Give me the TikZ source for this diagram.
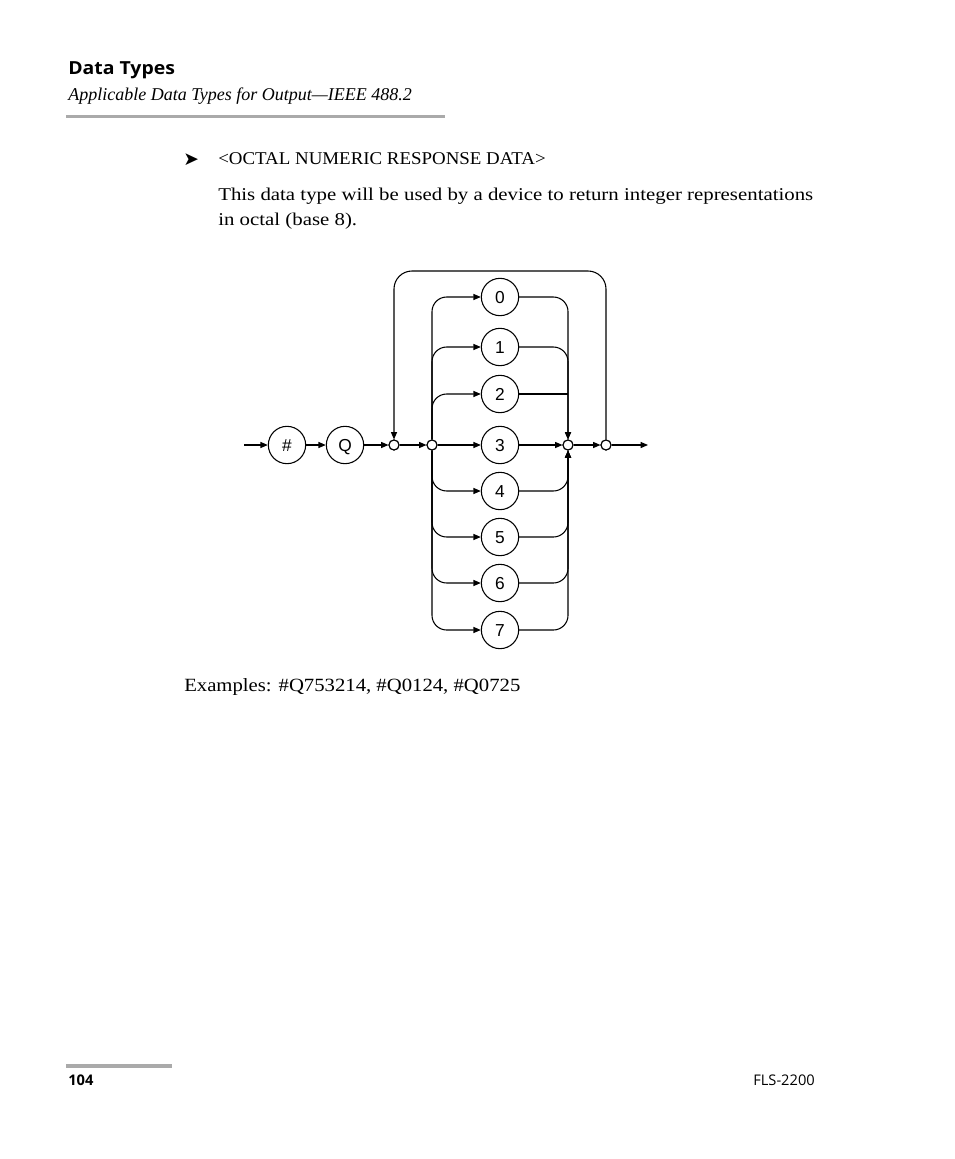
\documentclass[tikz,border=0pt]{standalone}
\usepackage{fontspec}
\setmainfont{Liberation Serif}
\newfontfamily\bodyA[FakeStretch=1.158]{Liberation Serif}
\newfontfamily\bodyB[FakeStretch=1.05]{Liberation Serif}
\newfontfamily\bodyC[FakeStretch=1.11]{Liberation Serif}
\newfontfamily\headfont[FakeStretch=1.08]{Open Sans}
\newfontfamily\footfont[FakeStretch=1.0]{Open Sans}
\newfontfamily\diagfont{Liberation Sans}
\newfontfamily\symfont{DejaVu Sans}
\usetikzlibrary{arrows.meta}
\definecolor{rulegray}{RGB}{170,170,170}
\tikzset{
  arr/.style={-{Triangle[length=5.5pt,width=4.5pt]}},
  line/.style={line width=0.8pt},
  term/.style={circle,draw,line width=0.8pt,minimum size=28pt,inner sep=0pt,text height=9.3pt,text depth=0pt,font=\diagfont\fontsize{13}{14}\selectfont},
  junc/.style={circle,draw,line width=0.8pt,fill=white,minimum size=7.5pt,inner sep=0pt},
  txt/.style={anchor=base west,inner sep=0pt},
}
\begin{document}
\begin{tikzpicture}[x=0.75pt,y=-0.75pt]
\useasboundingbox[fill=white] (0,0) rectangle (954,1159);
% header
\node[txt,font=\headfont\bfseries\fontsize{13.5}{15}\selectfont] (title) at (68,75) {Data Types};
\node[txt,font=\itshape\fontsize{13.5}{15}\selectfont] (sub) at (68,101) {Applicable Data Types for Output—IEEE 488.2};
\fill[rulegray] (66,115.5) rectangle (445,118.5);
% bullet heading
\node[txt,font=\symfont\fontsize{14}{15}\selectfont] (bul) at (183,166) {➤};
\node[txt,font=\bodyB\fontsize{13.5}{15}\selectfont] (head) at (218,165) {<OCTAL NUMERIC RESPONSE DATA>};
\node[txt,font=\bodyA\fontsize{13.5}{15}\selectfont] (p1) at (218,200) {This data type will be used by a device to return integer representations};
\node[txt,font=\bodyA\fontsize{13.5}{15}\selectfont] (p2) at (218,225) {in octal (base 8).};
% diagram
\coordinate (start) at (244,445);
\coordinate (end) at (648,445);
\node[term] (hash) at (287,445) {\#};
\node[term] (Q) at (345,445) {Q};
\node[junc] (j1) at (394,445) {};
\node[junc] (j2) at (432,445) {};
\node[junc] (j3) at (568,445) {};
\node[junc] (j4) at (606,445) {};
\node[term] (d0) at (500,297) {0};
\node[term] (d1) at (500,347) {1};
\node[term] (d2) at (500,394) {2};
\node[term] (d3) at (500,445) {3};
\node[term] (d4) at (500,491) {4};
\node[term] (d5) at (500,537) {5};
\node[term] (d6) at (500,583) {6};
\node[term] (d7) at (500,630) {7};
\coordinate (top) at (500,271);
\draw[line,arr] (start) -- (hash);
\draw[line,arr] (hash) -- (Q);
\draw[line,arr] (Q) -- (j1);
\draw[line,arr] (j1) -- (j2);
\draw[line,arr] (j2) -- (d3);
\draw[line,arr] (d3) -- (j3);
\draw[line,arr] (j3) -- (j4);
\draw[line,arr] (j4) -- (end);
\draw[line,arr,rounded corners=13.5pt] (j4.north) |- (top) -| (j1.north);
\foreach \d in {d0,d1,d2}{
  \draw[line,arr,rounded corners=11pt] (j2.north) |- (\d.west);
}
\foreach \d in {d4,d5,d6,d7}{
  \draw[line,arr,rounded corners=11pt] (j2.south) |- (\d.west);
}
\foreach \d in {d0,d1}{
  \draw[line,arr,rounded corners=11pt] (\d.east) -| (j3.north);
}
\draw[line] (d2.east) -- (d2.east -| j3);
\foreach \d in {d4,d5,d6,d7}{
  \draw[line,arr,rounded corners=11pt] (\d.east) -| (j3.south);
}
\node[junc] at (j1) {};
\node[junc] at (j2) {};
\node[junc] at (j3) {};
\node[junc] at (j4) {};
% examples
\node[txt,font=\bodyC\fontsize{14}{15}\selectfont] (ex) at (184,691) {Examples: \#Q753214, \#Q0124, \#Q0725};
% footer
\fill[rulegray] (66,1064) rectangle (172,1067.5);
\node[txt,font=\footfont\bfseries\fontsize{11}{13}\selectfont] (page) at (68,1085) {104};
\node[txt,font=\footfont\fontsize{11}{12}\selectfont] (doc) at (753,1085) {FLS-2200};
\end{tikzpicture}
\end{document}
